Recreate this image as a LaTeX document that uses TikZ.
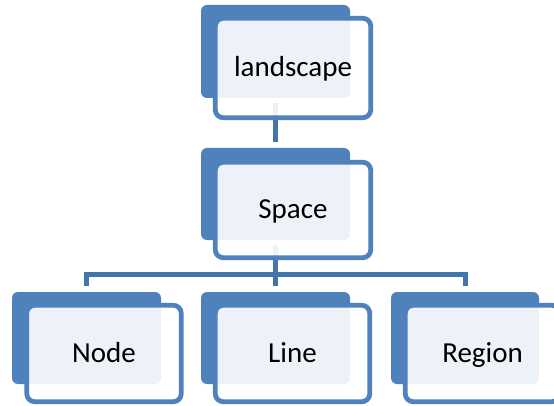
\documentclass[tikz,border=0pt]{standalone}
\usepackage{fontspec}
\setmainfont{Carlito}
\usetikzlibrary{calc}
\definecolor{accent}{HTML}{4F81BD}
\definecolor{connc}{HTML}{4374AC}
\pgfdeclarelayer{bg}
\pgfdeclarelayer{mid}
\pgfsetlayers{bg,mid,main}
\begin{document}
\begin{tikzpicture}[x=1pt,y=-1pt,
  backbox/.style={rectangle, fill=accent, rounded corners=6pt, minimum width=149pt, minimum height=92pt, inner sep=0pt},
  frontbox/.style={rectangle, draw=accent, line width=4.8pt, rounded corners=8pt, fill=white, fill opacity=0.9, text opacity=1,
    minimum width=154.5pt, minimum height=96.5pt, inner sep=0pt, font=\fontsize{29}{31}\selectfont, text height=20.5pt, text depth=3pt},
  conn/.style={draw=connc, line width=5pt, shorten <=5pt, shorten >=6pt}]
\useasboundingbox (0,0) rectangle (554,406);
\clip (0,0) rectangle (554,406);
\begin{pgfonlayer}{mid}
  \node[backbox, minimum height=93pt] (tb) at (275.5,51.5) {};
  \node[backbox] (sb) at (275.5,194) {};
  \node[backbox] (nb) at (86.5,338) {};
  \node[backbox] (lb) at (275.5,338) {};
  \node[backbox, minimum width=148pt] (rb) at (465,338) {};
\end{pgfonlayer}
\node[frontbox, minimum width=155.5pt, minimum height=99.5pt] (tf) at (293,68) {landscape};
\node[frontbox, minimum width=155.5pt, minimum height=95.5pt] (sf) at (293,210) {Space};
\node[frontbox] (nf) at (104,353.5) {Node};
\node[frontbox] (lf) at (292.5,353.5) {Line};
\node[frontbox] (rf) at (482.5,353.5) {Region};
\coordinate (bus) at (275.5,274);
\begin{pgfonlayer}{bg}
  \draw[conn] (tb.south) -- (sb.north);
  \draw[conn, shorten >=0pt] (sb.south) -- (bus);
  \draw[conn, shorten <=0pt] (bus) -| (nb.north);
  \draw[conn, shorten <=0pt] (bus) -- (lb.north);
  \draw[conn, shorten <=0pt] (bus) -| (rb.north);
\end{pgfonlayer}
\end{tikzpicture}
\end{document}
